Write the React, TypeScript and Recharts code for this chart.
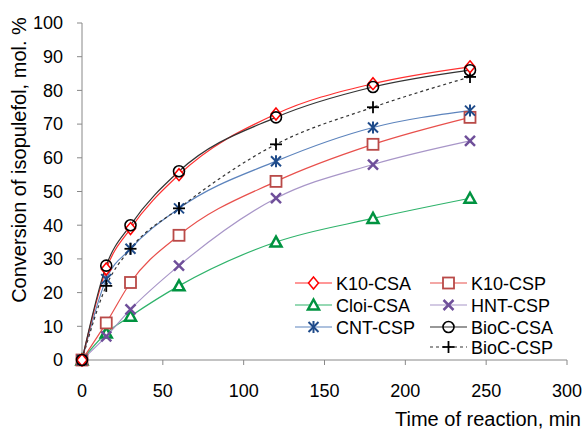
import React from 'react';
import { LineChart, Line, XAxis, YAxis, Label } from 'recharts';

const times = [0, 15, 30, 60, 120, 180, 240];
const k10CSA = [0, 27, 39, 55, 73, 82, 87];
const cloiCSA = [0, 8, 13, 22, 35, 42, 48];
const cntCSP = [0, 24, 33, 45, 59, 69, 74];
const k10CSP = [0, 11, 23, 37, 53, 64, 72];
const hntCSP = [0, 7, 15, 28, 48, 58, 65];
const biocCSA = [0, 28, 40, 56, 72, 81, 86];
const biocCSP = [0, 22, 33, 45, 64, 75, 84];

const xTicks = [0, 50, 100, 150, 200, 250, 300];
const yTicks = [0, 10, 20, 30, 40, 50, 60, 70, 80, 90, 100];

const data = times.map((t, i) => ({
  t,
  k10CSA: k10CSA[i],
  cloiCSA: cloiCSA[i],
  cntCSP: cntCSP[i],
  k10CSP: k10CSP[i],
  hntCSP: hntCSP[i],
  biocCSA: biocCSA[i],
  biocCSP: biocCSP[i],
}));

type Shape = 'diamond' | 'triangle' | 'asterisk' | 'square' | 'cross' | 'circle' | 'plus';

const series: { key: string; name: string; line: string; marker: string; shape: Shape; dashed?: boolean }[] = [
  { key: 'cloiCSA', name: 'Cloi-CSA', line: '#2fb36b', marker: '#009340', shape: 'triangle' },
  { key: 'hntCSP', name: 'HNT-CSP', line: '#a896c8', marker: '#6f4f9a', shape: 'cross' },
  { key: 'k10CSP', name: 'K10-CSP', line: '#e8504c', marker: '#b94a48', shape: 'square' },
  { key: 'cntCSP', name: 'CNT-CSP', line: '#5d84bd', marker: '#1f4b8a', shape: 'asterisk' },
  { key: 'biocCSP', name: 'BioC-CSP', line: '#333333', marker: '#000000', shape: 'plus', dashed: true },
  { key: 'k10CSA', name: 'K10-CSA', line: '#ff3030', marker: '#ff0000', shape: 'diamond' },
  { key: 'biocCSA', name: 'BioC-CSA', line: '#333333', marker: '#000000', shape: 'circle' },
];

function Marker({ cx, cy, color, shape }: { cx: number; cy: number; color: string; shape: Shape }) {
  if (cx == null || cy == null) return null;
  switch (shape) {
    case 'diamond':
      return <path d={`M${cx},${cy - 6} L${cx + 5},${cy} L${cx},${cy + 6} L${cx - 5},${cy} Z`} fill="#fff" stroke={color} strokeWidth={1.5} />;
    case 'triangle':
      return <path d={`M${cx},${cy - 5.5} L${cx + 5.5},${cy + 4.5} L${cx - 5.5},${cy + 4.5} Z`} fill="#fff" stroke={color} strokeWidth={2.5} />;
    case 'square':
      return <rect x={cx - 5.5} y={cy - 5.5} width={11} height={11} fill="#fff" stroke={color} strokeWidth={1.8} />;
    case 'circle':
      return <circle cx={cx} cy={cy} r={5.5} fill="none" stroke={color} strokeWidth={1.6} />;
    case 'cross':
      return (
        <g stroke={color} strokeWidth={2.5}>
          <line x1={cx - 5} y1={cy - 5} x2={cx + 5} y2={cy + 5} />
          <line x1={cx - 5} y1={cy + 5} x2={cx + 5} y2={cy - 5} />
        </g>
      );
    case 'asterisk':
      return (
        <g stroke={color} strokeWidth={2}>
          <line x1={cx - 5} y1={cy - 5} x2={cx + 5} y2={cy + 5} />
          <line x1={cx - 5} y1={cy + 5} x2={cx + 5} y2={cy - 5} />
          <line x1={cx} y1={cy - 6} x2={cx} y2={cy + 6} />
        </g>
      );
    case 'plus':
      return (
        <g stroke={color} strokeWidth={1.8}>
          <line x1={cx - 6} y1={cy} x2={cx + 6} y2={cy} />
          <line x1={cx} y1={cy - 6} x2={cx} y2={cy + 6} />
        </g>
      );
  }
  return null;
}

const legendOrder = [
  ['k10CSA', 'cloiCSA', 'cntCSP'],
  ['k10CSP', 'hntCSP', 'biocCSA', 'biocCSP'],
];

const font = 'Liberation Sans, Arial, sans-serif';

function LegendBox() {
  const rowY = [13, 35, 57, 77];
  const colX = [5, 140];
  return (
    <svg width={295} height={92} style={{ overflow: 'visible', display: 'block' }}>
      {legendOrder.map((col, ci) =>
        col.map((k, ri) => {
          const s = series.find((x) => x.key === k)!;
          const x0 = colX[ci];
          const y = rowY[ri];
          return (
            <g key={k}>
              <line x1={x0} y1={y} x2={x0 + 37} y2={y} stroke={s.line} strokeWidth={1.2} strokeDasharray={s.dashed ? '3 3' : undefined} />
              <Marker cx={x0 + 18.5} cy={y} color={s.marker} shape={s.shape} />
              <text x={x0 + 41} y={y + 6.5} fontSize={18} fontFamily={font} fill="#000">
                {s.name}
              </text>
            </g>
          );
        })
      )}
    </svg>
  );
}

export default function App() {
  return (
    <div style={{ position: 'absolute', left: 0, top: 0, width: 585, height: 433, background: '#fff' }}>
      <LineChart width={585} height={433} data={data} margin={{ top: 23, right: 18, bottom: 43, left: 0 }}>
        <XAxis
          dataKey="t"
          type="number"
          domain={[0, 300]}
          ticks={xTicks}
          stroke="#888"
          height={30}
          tickSize={5}
          tickMargin={19}
          tick={{ fill: '#000', fontSize: 18, fontFamily: font }}
        >
          <Label
            content={() => (
              <text x={581} y={426} textAnchor="end" fontSize={20} fontFamily={font} fill="#000">
                Time of reaction, min
              </text>
            )}
          />
        </XAxis>
        <YAxis
          type="number"
          domain={[0, 100]}
          ticks={yTicks}
          width={82}
          stroke="#888"
          tickSize={5}
          tickMargin={14}
          interval={0}
          tick={{ fill: '#000', fontSize: 18, fontFamily: font }}
        >
          <Label
            content={() => (
              <text x={19} y={160} transform="rotate(-90 19 160)" textAnchor="middle" dominantBaseline="central" fontSize={20} fontFamily={font} fill="#000">
                Conversion of isopulefol, mol. %
              </text>
            )}
          />
        </YAxis>
        {series.map((s) => (
          <Line
            key={s.key}
            dataKey={s.key}
            name={s.name}
            type="monotone"
            stroke={s.line}
            strokeWidth={1.2}
            strokeDasharray={s.dashed ? '3 3' : undefined}
            isAnimationActive={false}
            dot={(p: any) => <Marker key={`${s.key}-${p.index}`} cx={p.cx} cy={p.cy} color={s.marker} shape={s.shape} />}
            activeDot={false}
          />
        ))}
      </LineChart>
      <div style={{ position: 'absolute', left: 290, top: 270, width: 295, height: 92 }}>
        <LegendBox />
      </div>
    </div>
  );
}
